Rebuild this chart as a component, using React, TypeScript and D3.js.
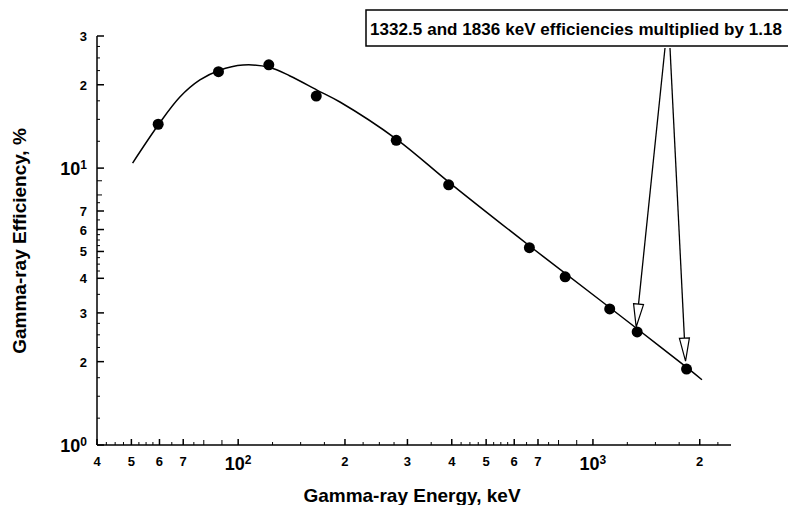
import React from 'react';
import * as d3 from 'd3';

// measured efficiencies (keV, %)
const energies = [59.5, 88, 122, 166, 279, 392, 662, 835, 1115, 1332.5, 1836];
const efficiencies = [14.4, 22.3, 23.6, 18.2, 12.6, 8.7, 5.16, 4.05, 3.1, 2.56, 1.88];

// fitted curve
const curveEnergies = [50.4, 59.8, 68.5, 78, 88.3, 103.2, 122.9, 140, 166.8, 193.6, 280.4, 395.4, 668.8, 1046, 1357, 1853, 2029];
const curveEfficiencies = [10.43, 14.43, 18.06, 20.81, 22.52, 23.57, 23.09, 21.51, 19.14, 17.33, 12.68, 8.83, 5.19, 3.34, 2.58, 1.89, 1.72];

const xTicks = [40, 50, 60, 70, 100, 200, 300, 400, 500, 600, 700, 1000, 2000];
const xTickLabels = ['4', '5', '6', '7', '10^2', '2', '3', '4', '5', '6', '7', '10^3', '2'];
const yTicks = [1, 2, 3, 4, 5, 6, 7, 10, 20, 30];
const yTickLabels = ['10^0', '2', '3', '4', '5', '6', '7', '10^1', '2', '3'];

const midSteps = [8, 9];
const minorSteps = [1.25, 1.5, 1.75, 2.25, 2.5, 2.75, 3.5, 4.25, 4.5, 4.75, 5.25, 5.5, 5.75, 6.5, 7.5];
const decades = [1, 10, 100, 1000];

const note = '1332.5 and 1836 keV efficiencies multiplied by 1.18';
const noteTargets = [9, 10]; // indices of the two boosted points

const FONT = '"Liberation Sans", Arial, Helvetica, sans-serif';

const Label = ({ text, x, y, anchor, big, small }) => {
  const parts = text.split('^');
  if (parts.length === 1) {
    return (
      <text x={x} y={y} textAnchor={anchor} fontSize={small} fontWeight="bold" fontFamily={FONT}>
        {text}
      </text>
    );
  }
  return (
    <text x={x} y={y} textAnchor={anchor} fontSize={big} fontWeight="bold" fontFamily={FONT}>
      {parts[0]}
      <tspan dy={-6} fontSize={12}>{parts[1]}</tspan>
    </text>
  );
};

export default function App() {
  const x = d3.scaleLog().domain([40, 2450]).range([97, 731]);
  const y = d3.scaleLog().domain([1, 30]).range([445, 36]);
  const [xMin, xMax] = x.domain();
  const [yMin, yMax] = y.domain();

  const gen = (steps) => decades.flatMap(d => steps.map(s => s * d));
  const xMid = gen(midSteps).filter(v => v >= xMin && v <= xMax);
  const xMinor = gen(minorSteps).filter(v => v >= xMin && v <= xMax);
  const yMid = gen(midSteps).filter(v => v >= yMin && v <= yMax);
  const yMinor = gen(minorSteps).filter(v => v >= yMin && v <= yMax);

  const x0 = x.range()[0];
  const y0 = y.range()[0];

  const curve = curveEnergies.map((e, i) => [x(e), y(curveEfficiencies[i])]);
  const line = d3.line().curve(d3.curveCatmullRom.alpha(0.5));

  // annotation box + arrows
  const box = { x: 366, y: 10, h: 36 };
  const arrowStarts = [665, 670];
  const arrows = noteTargets.map((idx, k) => {
    const sx = arrowStarts[k];
    const sy = box.y + box.h + 2;
    const px = x(energies[idx]);
    const py = y(efficiencies[idx]);
    const gap = k === 0 ? 5 : 8;
    const tx = px - 1;
    const ty = py - gap;
    const len = Math.hypot(tx - sx, ty - sy);
    const ux = (tx - sx) / len;
    const uy = (ty - sy) / len;
    const bx = tx - 23 * ux;
    const by = ty - 23 * uy;
    const head = [
      [bx - 5 * uy, by + 5 * ux],
      [bx + 5 * uy, by - 5 * ux],
      [tx, ty],
    ];
    return { sx, sy, bx, by, head };
  });

  return (
    <svg width={788} height={505} style={{ position: 'absolute', left: 0, top: 0, background: '#fff' }}>
      {/* axes */}
      <g stroke="#000" strokeWidth={1.5} fill="none">
        <line x1={x0} x2={x0} y1={y(yMin)} y2={y(yMax)} />
        <line x1={x(xMin)} x2={x(xMax)} y1={y0} y2={y0} />
        {yTicks.map(v => <line key={'ym' + v} x1={x0} x2={x0 + 7} y1={y(v)} y2={y(v)} />)}
        {xTicks.map(v => <line key={'xm' + v} x1={x(v)} x2={x(v)} y1={y0} y2={y0 - 6} />)}
      </g>
      <g stroke="#000" strokeWidth={1} fill="none">
        {yMid.map(v => <line key={'yd' + v} x1={x0} x2={x0 + 5} y1={y(v)} y2={y(v)} />)}
        {yMinor.map(v => <line key={'yn' + v} x1={x0} x2={x0 + 3} y1={y(v)} y2={y(v)} />)}
        {xMid.map(v => <line key={'xd' + v} x1={x(v)} x2={x(v)} y1={y0} y2={y0 - 5} />)}
        {xMinor.map(v => <line key={'xn' + v} x1={x(v)} x2={x(v)} y1={y0} y2={y0 - 3} />)}
      </g>

      {/* tick labels */}
      {yTicks.map((v, i) => (
        <Label key={'yl' + v} text={yTickLabels[i]} x={87} y={y(v) + (yTickLabels[i].includes('^') ? 7 : 5)}
          anchor="end" big={18} small={13} />
      ))}
      {xTicks.map((v, i) => (
        <Label key={'xl' + v} text={xTickLabels[i]} x={x(v)} y={xTickLabels[i].includes('^') ? 470 : 466}
          anchor="middle" big={18} small={13} />
      ))}

      {/* axis titles */}
      <text x={412} y={502} textAnchor="middle" fontSize={19} fontWeight="bold" fontFamily={FONT}>
        Gamma-ray Energy, keV
      </text>
      <text transform="translate(26,241) rotate(-90)" textAnchor="middle" fontSize={19} fontWeight="bold" fontFamily={FONT}>
        Gamma-ray Efficiency, %
      </text>

      {/* fit curve */}
      <path d={line(curve)} fill="none" stroke="#000" strokeWidth={1.5} />

      {/* points */}
      {energies.map((e, i) => (
        <circle key={'p' + i} cx={x(e)} cy={y(efficiencies[i])} r={5.5} fill="#000" />
      ))}

      {/* annotation */}
      <rect x={box.x} y={box.y} width={788 - box.x + 10} height={box.h} fill="#fff" stroke="#000" strokeWidth={1.5} />
      <text x={370} y={35} fontSize={17} fontWeight="bold" fontFamily={FONT} textLength={412} lengthAdjust="spacing">
        {note}
      </text>
      {arrows.map((a, k) => (
        <g key={'a' + k}>
          <line x1={a.sx} y1={a.sy} x2={a.bx} y2={a.by} stroke="#000" strokeWidth={1.3} />
          <polygon points={a.head.map(p => p.join(',')).join(' ')} fill="#fff" stroke="#000" strokeWidth={1.2} />
        </g>
      ))}
    </svg>
  );
}
